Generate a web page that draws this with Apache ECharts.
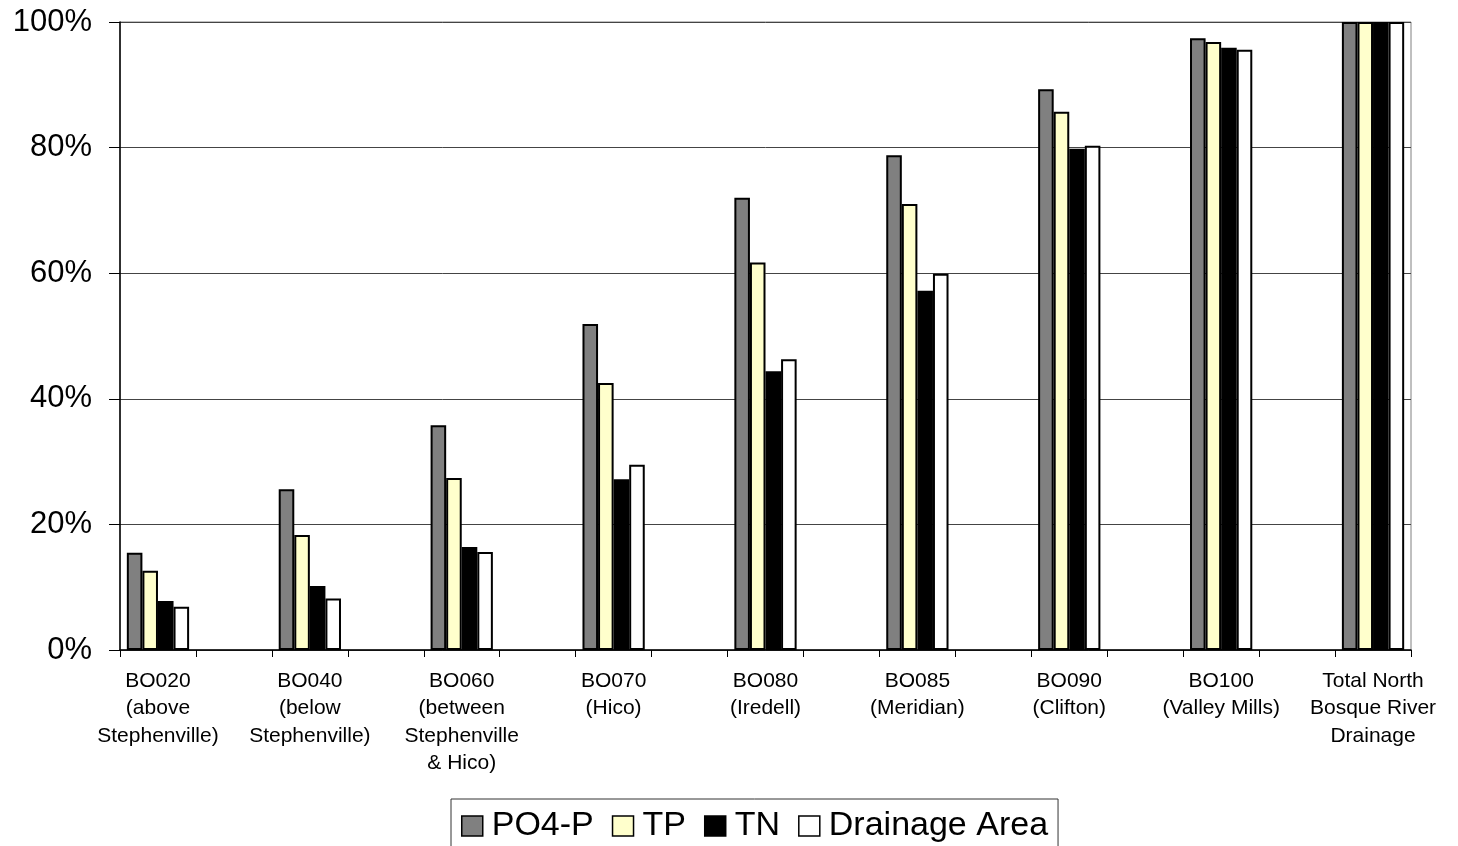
<!DOCTYPE html>
<html>
<head>
<meta charset="utf-8">
<script src="https://cdn.jsdelivr.net/npm/echarts@6/dist/echarts.min.js"></script>
<style>
html,body{margin:0;padding:0;background:#fff;}
#chart{width:1458px;height:846px;}
</style>
</head>
<body>
<div id="chart"></div>
<script>
var categories = [
  "BO020\n(above\nStephenville)",
  "BO040\n(below\nStephenville)",
  "BO060\n(between\nStephenville\n& Hico)",
  "BO070\n(Hico)",
  "BO080\n(Iredell)",
  "BO085\n(Meridian)",
  "BO090\n(Clifton)",
  "BO100\n(Valley Mills)",
  "Total North\nBosque River\nDrainage"
];
var yTicks = [0, 20, 40, 60, 80, 100];
var po4p = [15.5, 25.6, 35.8, 51.9, 72.0, 78.8, 89.3, 97.4, 100];
var tp = [12.6, 18.3, 27.4, 42.5, 61.7, 71.0, 85.7, 96.8, 100];
var tn = [7.8, 10.2, 16.4, 27.2, 44.4, 57.2, 79.8, 95.9, 100];
var drainage = [6.9, 8.2, 15.6, 29.5, 46.3, 59.9, 80.3, 95.6, 100];

// Interleave blank spacer categories between stations
function withGaps(arr, blank) {
  var out = [];
  for (var i = 0; i < arr.length; i++) {
    if (i > 0) out.push(blank === undefined ? "__gap" + i : blank);
    out.push(arr[i]);
  }
  return out;
}
var axisCats = withGaps(categories);
function seriesData(arr) { return withGaps(arr, null); }

var FONT = "'Liberation Sans', Arial, sans-serif";
var chart = echarts.init(document.getElementById('chart'), null, {renderer: 'canvas'});
function bar(name, data, color) {
  return {
    name: name, type: 'bar', data: seriesData(data),
    barGap: '0%', barCategoryGap: '18%',
    itemStyle: {color: color, borderColor: '#000', borderWidth: 2},
    animation: false
  };
}
chart.setOption({
  animation: false,
  backgroundColor: '#fff',
  grid: {left: 120, right: 47, top: 22, bottom: 196, show: true, borderColor: '#808080', borderWidth: 1, containLabel: false},
  xAxis: {
    type: 'category', data: axisCats,
    axisLine: {lineStyle: {color: '#000', width: 1.5}},
    axisTick: {show: true, length: 7, alignWithLabel: false, interval: 0, lineStyle: {color: '#000', width: 1}},
    axisLabel: {
      interval: 0, margin: 17, color: '#000', fontFamily: FONT, fontSize: 21, lineHeight: 27.5,
      formatter: function (v) { return v.indexOf('__gap') === 0 ? '' : v; }
    },
    splitLine: {show: false}
  },
  yAxis: {
    type: 'value', min: yTicks[0], max: yTicks[yTicks.length - 1], interval: 20,
    axisLine: {show: true, lineStyle: {color: '#000', width: 1.5}},
    axisTick: {show: true, inside: false, length: 11, lineStyle: {color: '#000', width: 1}},
    axisLabel: {margin: 28, color: '#000', fontFamily: FONT, fontSize: 31, formatter: '{value}%'},
    splitLine: {show: true, lineStyle: {color: '#444', width: 1}}
  },
  legend: {
    left: 451, top: 799, orient: 'horizontal',
    padding: [10, 10, 20, 10],
    itemWidth: 21, itemHeight: 20, itemGap: 18,
    borderColor: '#333', borderWidth: 1,
    icon: 'rect',
    itemStyle: {borderColor: '#000', borderWidth: 1.5},
    textStyle: {color: '#000', fontFamily: FONT, fontSize: 34, padding: [0, 0, 0, 4]},
    data: ['PO4-P', 'TP', 'TN', 'Drainage Area']
  },
  series: [
    bar('PO4-P', po4p, '#808080'),
    bar('TP', tp, '#FFFFCC'),
    bar('TN', tn, '#000000'),
    bar('Drainage Area', drainage, '#FFFFFF')
  ]
});
</script>
</body>
</html>
